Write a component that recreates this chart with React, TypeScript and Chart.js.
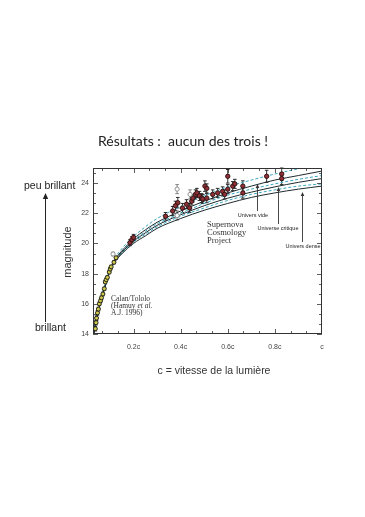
import React, { useEffect, useRef } from "react";
import { Chart, registerables } from "chart.js";
Chart.register(...registerables);

// ---- model curves ----
const curveX = [0.03, 0.04, 0.05, 0.06, 0.07, 0.08, 0.1, 0.12, 0.15, 0.2, 0.25, 0.3, 0.4, 0.5, 0.6, 0.7, 0.8, 0.9, 1.0];
const curveVide = [13.9, 14.8, 15.5, 16.15, 16.75, 17.25, 18.25, 18.9, 19.5, 20.3, 20.9, 21.4, 22.15, 22.8, 23.35, 23.8, 24.2, 24.5, 24.8];
const curveCritique = [13.9, 14.8, 15.5, 16.1, 16.7, 17.2, 18.2, 18.8, 19.4, 20.15, 20.7, 21.2, 21.9, 22.5, 23.0, 23.4, 23.75, 24.05, 24.3];
const curveDense = [13.9, 14.8, 15.5, 16.1, 16.65, 17.15, 18.15, 18.75, 19.3, 20.0, 20.5, 21.0, 21.65, 22.2, 22.65, 23.05, 23.35, 23.6, 23.8];
const curveDashTop = [13.9, 14.8, 15.55, 16.2, 16.8, 17.3, 18.3, 19.0, 19.65, 20.45, 21.1, 21.65, 22.45, 23.15, 23.75, 24.2, 24.6, 24.95, 25.3];
const curveDashMid = [13.9, 14.8, 15.5, 16.1, 16.7, 17.2, 18.2, 18.85, 19.45, 20.2, 20.8, 21.3, 22.0, 22.65, 23.2, 23.6, 23.95, 24.25, 24.5];
const curveDashLow = [13.9, 14.8, 15.5, 16.1, 16.7, 17.2, 18.2, 18.8, 19.35, 20.1, 20.6, 21.1, 21.8, 22.35, 22.85, 23.25, 23.55, 23.8, 23.95];

// ---- Calan/Tololo supernovae ----
const calanX = [0.038, 0.041, 0.043, 0.047, 0.051, 0.055, 0.06, 0.064, 0.07, 0.076, 0.08, 0.084, 0.089, 0.097, 0.101, 0.105, 0.117, 0.126];
const calanY = [14.35, 14.75, 15.05, 15.4, 15.65, 16.0, 16.2, 16.4, 16.65, 17.0, 17.45, 17.6, 17.75, 18.1, 18.3, 18.45, 18.75, 19.05];
const calanErr = [0.15, 0.15, 0.15, 0.15, 0.12, 0.12, 0.12, 0.12, 0.12, 0.1, 0.1, 0.1, 0.1, 0.1, 0.1, 0.1, 0.1, 0.1];

// ---- Supernova Cosmology Project ----
const scpX = [0.185, 0.193, 0.2, 0.336, 0.366, 0.378, 0.388, 0.408, 0.425, 0.438, 0.447, 0.452, 0.463, 0.469, 0.48, 0.489, 0.494, 0.503, 0.511, 0.511, 0.536, 0.557, 0.578, 0.587, 0.6, 0.6, 0.621, 0.63, 0.664, 0.664, 0.765, 0.829, 0.829];
const scpY = [20.05, 20.25, 20.4, 21.8, 22.15, 22.5, 22.7, 22.35, 22.6, 22.35, 22.8, 23.0, 23.25, 23.35, 23.15, 23.0, 22.95, 23.8, 23.65, 23.0, 23.25, 23.35, 23.45, 23.25, 23.6, 24.45, 23.8, 23.95, 23.8, 23.35, 24.45, 24.6, 24.3];
const scpErr = [0.2, 0.2, 0.2, 0.25, 0.3, 0.3, 0.35, 0.3, 0.3, 0.3, 0.25, 0.25, 0.3, 0.3, 0.3, 0.3, 0.3, 0.35, 0.3, 0.3, 0.3, 0.3, 0.3, 0.3, 0.3, 0.45, 0.3, 0.3, 0.35, 0.35, 0.4, 0.4, 0.4];

// ---- open (excluded) points ----
const openX = [0.113, 0.385, 0.385, 0.44];
const openY = [19.3, 23.6, 21.85, 23.25];
const openErr = [0.12, 0.3, 0.3, 0.3];

const yTickValues = [14, 16, 18, 20, 22, 24];
const xTickValues = [0.2, 0.4, 0.6, 0.8, 1.0];
const xTickLabels = ["0.2c", "0.4c", "0.6c", "0.8c", "c"];

const SANS = "'Liberation Sans', Arial, sans-serif";
const SERIF = "'Liberation Serif', 'Times New Roman', serif";

function pts(xs: number[], ys: number[]) {
  return xs.map((x, i) => ({ x, y: ys[i] }));
}

function arrowUp(ctx: CanvasRenderingContext2D, x: number, y0: number, y1: number, head: number) {
  ctx.beginPath();
  ctx.moveTo(x, y0);
  ctx.lineTo(x, y1 + head);
  ctx.stroke();
  ctx.beginPath();
  ctx.moveTo(x, y1);
  ctx.lineTo(x - head * 0.45, y1 + head);
  ctx.lineTo(x + head * 0.45, y1 + head);
  ctx.closePath();
  ctx.fill();
}

const errorBars = {
  id: "errorBars",
  beforeDatasetsDraw(chart: any) {
    const ctx = chart.ctx;
    const ys = chart.scales.y;
    ctx.save();
    chart.data.datasets.forEach((ds: any, i: number) => {
      if (!ds.errs) return;
      const meta = chart.getDatasetMeta(i);
      meta.data.forEach((el: any, j: number) => {
        const v = ds.data[j].y;
        const e = ds.errs[j];
        const top = ys.getPixelForValue(v + e);
        const bot = ys.getPixelForValue(v - e);
        ctx.strokeStyle = ds.errColor;
        ctx.lineWidth = 0.9;
        ctx.beginPath();
        ctx.moveTo(el.x, top);
        ctx.lineTo(el.x, bot);
        ctx.moveTo(el.x - 1.8, top);
        ctx.lineTo(el.x + 1.8, top);
        ctx.moveTo(el.x - 1.8, bot);
        ctx.lineTo(el.x + 1.8, bot);
        ctx.stroke();
      });
    });
    ctx.restore();
  },
};

const deco = {
  id: "deco",
  afterDraw(chart: any) {
    const ctx: CanvasRenderingContext2D = chart.ctx;
    const a = chart.chartArea;
    const xs = chart.scales.x;
    const ys = chart.scales.y;
    ctx.save();
    // frame
    ctx.strokeStyle = "#333";
    ctx.lineWidth = 1;
    ctx.strokeRect(a.left + 0.5, a.top + 0.5, a.right - a.left - 1, a.bottom - a.top - 1);
    // inward ticks
    ctx.lineWidth = 0.8;
    ctx.beginPath();
    for (let k = -3; k <= 12; k++) {
      const v = 0.2 + (k * 0.2) / 3;
      if (v < xs.min || v > xs.max) continue;
      const p = Math.round(xs.getPixelForValue(v)) + 0.5;
      const len = k % 3 === 0 ? 5 : 3;
      ctx.moveTo(p, a.bottom);
      ctx.lineTo(p, a.bottom - len);
      ctx.moveTo(p, a.top);
      ctx.lineTo(p, a.top + len);
    }
    for (let k = 0; k <= 16; k++) {
      const v = 14 + (k * 2) / 3;
      if (v > ys.max) continue;
      const p = Math.round(ys.getPixelForValue(v)) + 0.5;
      const len = k % 3 === 0 ? 5 : 3;
      ctx.moveTo(a.left, p);
      ctx.lineTo(a.left + len, p);
      ctx.moveTo(a.right, p);
      ctx.lineTo(a.right - len, p);
    }
    ctx.stroke();

    // title
    ctx.fillStyle = "#222";
    ctx.textAlign = "center";
    ctx.textBaseline = "middle";
    ctx.font = "14px Lato, 'Open Sans', sans-serif";
    ctx.fillText("Résultats :  aucun des trois !", 183, 141);

    // left annotations
    ctx.font = `10.5px ${SANS}`;
    ctx.textAlign = "left";
    ctx.fillText("peu brillant", 24, 186);
    ctx.fillText("brillant", 35, 328);
    ctx.strokeStyle = "#222";
    ctx.fillStyle = "#222";
    ctx.lineWidth = 1;
    arrowUp(ctx, 45.5, 322, 193, 6);

    // axis titles
    ctx.fillStyle = "#333";
    ctx.save();
    ctx.translate(68, 252);
    ctx.rotate(-Math.PI / 2);
    ctx.textAlign = "center";
    ctx.font = `11px ${SANS}`;
    ctx.fillText("magnitude", 0, 0);
    ctx.restore();
    ctx.textAlign = "center";
    ctx.font = `10.5px ${SANS}`;
    ctx.fillText("c = vitesse de la lumière", 214, 371);

    // in-plot annotations
    ctx.fillStyle = "#333";
    ctx.textAlign = "left";
    ctx.font = `8.5px ${SERIF}`;
    ctx.fillText("Supernova", 207, 225);
    ctx.fillText("Cosmology", 207, 233);
    ctx.fillText("Project", 207, 241);
    ctx.font = `7.5px ${SERIF}`;
    ctx.fillText("Calan/Tololo", 111, 299);
    ctx.fillText("(Hamuy ", 111, 306);
    const w = ctx.measureText("(Hamuy ").width;
    ctx.font = `italic 7.5px ${SERIF}`;
    ctx.fillText("et al.", 111 + w, 306);
    ctx.font = `7.5px ${SERIF}`;
    ctx.fillText("A.J. 1996)", 111, 313);

    ctx.font = `5.5px ${SANS}`;
    ctx.fillStyle = "#222";
    ctx.textAlign = "center";
    ctx.fillText("Univers vide", 253, 215);
    ctx.fillText("Universe critique", 278, 228);
    ctx.fillText("Univers dense", 303, 246);
    ctx.strokeStyle = "#333";
    ctx.fillStyle = "#333";
    ctx.lineWidth = 0.9;
    arrowUp(ctx, 257.5, 211, 184, 4);
    arrowUp(ctx, 278.5, 224, 187, 4);
    arrowUp(ctx, 302.5, 242, 192, 4);
    ctx.restore();
  },
};

export default function App() {
  const ref = useRef<HTMLCanvasElement | null>(null);
  useEffect(() => {
    if (!ref.current) return;
    const solid = (data: number[]) => ({
      type: "line" as const,
      data: pts(curveX, data),
      borderColor: "#1e2a2e",
      borderWidth: 1,
      pointRadius: 0,
      fill: false,
      cubicInterpolationMode: "monotone" as const,
      order: 3,
    });
    const dashed = (data: number[]) => ({
      type: "line" as const,
      data: pts(curveX, data),
      borderColor: "#3aa6bf",
      borderWidth: 1,
      borderDash: [3, 2],
      pointRadius: 0,
      fill: false,
      cubicInterpolationMode: "monotone" as const,
      order: 3,
    });
    const chart = new Chart(ref.current, {
      type: "scatter",
      data: {
        datasets: [
          solid(curveVide),
          solid(curveCritique),
          solid(curveDense),
          dashed(curveDashTop),
          dashed(curveDashMid),
          dashed(curveDashLow),
          {
            data: pts(openX, openY),
            errs: openErr,
            errColor: "#777",
            pointRadius: 2.1,
            pointBackgroundColor: "#ffffff",
            pointBorderColor: "#888",
            pointBorderWidth: 0.9,
            order: 1,
          } as any,
          {
            data: pts(calanX, calanY),
            errs: calanErr,
            errColor: "#222",
            pointRadius: 2.0,
            pointBackgroundColor: "#cfc84a",
            pointBorderColor: "#25251a",
            pointBorderWidth: 1,
            order: 1,
          } as any,
          {
            data: pts(scpX, scpY),
            errs: scpErr,
            errColor: "#1a1a1a",
            pointRadius: 2.2,
            pointBackgroundColor: "#8e2e35",
            pointBorderColor: "#2a1010",
            pointBorderWidth: 0.9,
            order: 1,
          } as any,
        ],
      },
      options: {
        animation: false,
        responsive: false,
        devicePixelRatio: 1,
        layout: { padding: { top: 168, right: 43, left: 0, bottom: 0 } },
        plugins: { legend: { display: false }, tooltip: { enabled: false }, title: { display: false } },
        scales: {
          x: {
            type: "linear",
            min: 0.028,
            max: 1.0,
            afterFit: (s: any) => { s.height = 183; },
            afterBuildTicks: (s: any) => { s.ticks = xTickValues.map((v) => ({ value: v })); },
            grid: { display: true, drawOnChartArea: false, drawTicks: false },
            border: { display: false },
            ticks: {
              padding: 9,
              color: "#444",
              font: { size: 7, family: SANS },
              maxRotation: 0,
              callback: (v: any) => {
                const i = xTickValues.findIndex((t) => Math.abs(t - v) < 1e-6);
                return i >= 0 ? xTickLabels[i] : "";
              },
            },
          },
          y: {
            type: "linear",
            min: 14,
            max: 25,
            afterFit: (s: any) => { s.width = 93; },
            afterBuildTicks: (s: any) => { s.ticks = yTickValues.map((v) => ({ value: v })); },
            grid: { display: true, drawOnChartArea: false, drawTicks: false },
            border: { display: false },
            ticks: {
              padding: 4,
              color: "#444",
              font: { size: 7, family: SANS },
              callback: (v: any) => String(v),
            },
          },
        },
      },
      plugins: [errorBars, deco],
    } as any);
    return () => chart.destroy();
  }, []);
  return (
    <div style={{ position: "absolute", left: 0, top: 0, width: 365, height: 517, background: "#fff" }}>
      <canvas ref={ref} width={365} height={517} style={{ width: 365, height: 517, display: "block" }} />
    </div>
  );
}
